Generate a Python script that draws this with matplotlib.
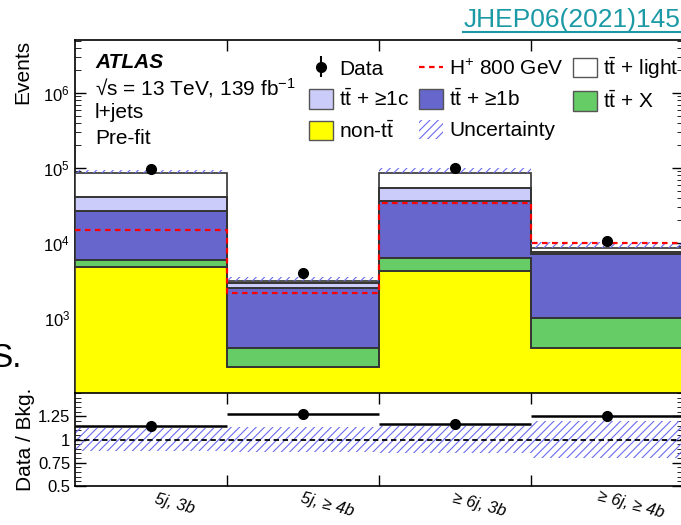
import numpy as np
import matplotlib
matplotlib.use('Agg')
import matplotlib.pyplot as plt
from matplotlib.patches import Patch
from matplotlib.lines import Line2D
from matplotlib.ticker import FixedLocator, LogLocator, MultipleLocator, NullFormatter
import matplotlib.transforms as mtrans

plt.rcParams['font.family'] = ['Liberation Sans', 'DejaVu Sans']
plt.rcParams['mathtext.fontset'] = 'custom'
plt.rcParams['mathtext.rm'] = 'Liberation Sans'
plt.rcParams['mathtext.it'] = 'Liberation Sans:italic'
plt.rcParams['mathtext.bf'] = 'Liberation Sans:bold'
plt.rcParams['hatch.linewidth'] = 0.8

# regions (bins)
regions = ['5j, 3b', '5j, \u2265 4b', '\u2265 6j, 3b', '\u2265 6j, \u2265 4b']

# pre-fit yields per region
non_tt = [4830, 220, 4200, 395]
tt_x = [1050, 180, 2050, 605]
tt_1b = [20600, 2140, 30400, 6130]
tt_1c = [14100, 360, 18000, 530]
tt_light = [44400, 240, 31900, 830]
data = [97000, 4000, 101000, 10600]
hplus = [14800, 2140, 33800, 10100]
rel_unc = [0.125, 0.13, 0.145, 0.2]

TT = r'$\mathrm{t\bar{t}}$'
components = [
    (non_tt, '#ffff00', 'non-' + TT),
    (tt_x, '#66cc66', TT + ' + X'),
    (tt_1b, '#6666cc', TT + ' + \u22651b'),
    (tt_1c, '#ccccfa', TT + ' + \u22651c'),
    (tt_light, '#ffffff', TT + ' + light'),
]
hatch_col = '#6b6bf2'
edge_col = '#333333'

edges = np.arange(len(regions) + 1)
centers = edges[:-1] + 0.5

fig = plt.figure(figsize=(6.81, 5.25), dpi=100)
W, H = 681, 525
ax = fig.add_axes([75 / W, 1 - 393 / H, (683 - 75) / W, (393 - 40) / H])
axr = fig.add_axes([75 / W, 1 - 486 / H, (683 - 75) / W, (486 - 393) / H], sharex=ax)

total = np.zeros(len(regions))
for vals, col, lab in components:
    top = total + np.array(vals)
    base = np.where(total > 0, total, 1.0)
    ax.stairs(top, edges, baseline=base, fill=True, facecolor=col, edgecolor='none', zorder=3)
    ax.stairs(top, edges, baseline=base, fill=False, color=edge_col, lw=1.2, zorder=4)
    total = top

unc = np.array(rel_unc)
ax.stairs(total * (1 + unc), edges, baseline=total, fill=True,
          facecolor='none', edgecolor=hatch_col, hatch='////', lw=0, zorder=5)

ax.stairs(hplus, edges, baseline=None, color='red', ls=(0, (2.5, 2)), lw=1.6, zorder=6)

data = np.array(data, dtype=float)
ax.errorbar(centers, data, yerr=np.sqrt(data), fmt='o', color='black', ms=7, lw=1.5, zorder=7)

ax.set_yscale('log')
ax.set_ylim(100, 5.1e6)
ax.set_xlim(0, 4)
ax.yaxis.set_major_locator(FixedLocator([1e3, 1e4, 1e5, 1e6]))
ax.yaxis.set_minor_locator(LogLocator(base=10, subs=np.arange(2, 10), numticks=20))
ax.yaxis.set_minor_formatter(NullFormatter())
ax.set_xticks([1, 2, 3])
ax.tick_params(axis='both', which='both', direction='in', top=True, right=True, labelsize=12)
ax.tick_params(axis='both', which='major', length=8, width=1)
ax.tick_params(axis='y', which='minor', length=4)
ax.tick_params(axis='x', labelbottom=False)
ax.set_ylabel('Events', fontsize=15, loc='top', labelpad=8)
for sp in ax.spines.values():
    sp.set_linewidth(1.2)

# ATLAS label block
ax.text(95 / W, 1 - 62 / H, 'ATLAS', transform=fig.transFigure, fontsize=15,
        fontweight='bold', style='italic', va='center')
ax.text(95 / W, 1 - 88 / H, '\u221as = 13 TeV, 139 fb$^{-1}$', transform=fig.transFigure,
        fontsize=15, va='center')
ax.text(95 / W, 1 - 113 / H, 'l+jets', transform=fig.transFigure, fontsize=15, va='center')
ax.text(95 / W, 1 - 138 / H, 'Pre-fit', transform=fig.transFigure, fontsize=15, va='center')

# legend
h_data = ax.errorbar([], [], yerr=[], fmt='o', color='black', ms=7, lw=1.5)
h_hp = Line2D([], [], color='red', ls=(0, (2.5, 2)), lw=1.6)
h_unc = Patch(facecolor='none', edgecolor=hatch_col, hatch='////', lw=0)
pt = {lab: Patch(facecolor=col, edgecolor='#555555', lw=1) for _, col, lab in components}
labs = [c[2] for c in components]
handles = [h_data, pt[labs[3]], pt[labs[0]],
           h_hp, pt[labs[2]], h_unc,
           pt[labs[4]], pt[labs[1]]]
labels = ['Data', labs[3], labs[0],
          'H$^{+}$ 800 GeV', labs[2], 'Uncertainty',
          labs[4], labs[1]]
ax.legend(handles, labels, ncol=3, loc='upper left', bbox_to_anchor=(309 / W, 1 - 55 / H),
          bbox_transform=fig.transFigure, frameon=False, fontsize=15,
          handlelength=1.15, handleheight=1.05, handletextpad=0.3,
          labelspacing=0.45, columnspacing=0.45, borderpad=0.0, borderaxespad=0.0)

# ratio panel
ratio = data / total
axr.stairs(1 + unc, edges, baseline=1 - unc, fill=True, facecolor='none',
           edgecolor=hatch_col, hatch='////', lw=0, zorder=2)
axr.axhline(1, color='black', ls=(0, (3, 2)), lw=1.3, zorder=3)
axr.errorbar(centers, ratio, xerr=0.5, yerr=np.sqrt(data) / total, fmt='o',
             color='black', ms=7, lw=1.8, zorder=5)
axr.set_ylim(0.5, 1.5)
axr.set_yticks([0.5, 0.75, 1, 1.25])
axr.set_yticklabels(['0.5', '0.75', '1', '1.25'])
axr.yaxis.set_minor_locator(MultipleLocator(0.05))
axr.set_xticks([1, 2, 3])
axr.tick_params(axis='both', which='both', direction='in', top=True, right=True, labelsize=12)
axr.tick_params(axis='both', which='major', length=8, width=1)
axr.tick_params(axis='y', which='minor', length=4)
axr.tick_params(axis='x', labelbottom=False)
axr.set_ylabel('Data / Bkg.', fontsize=15, labelpad=2)
for sp in axr.spines.values():
    sp.set_linewidth(1.2)

trans = mtrans.blended_transform_factory(axr.transData, axr.transAxes)
for c, lab in zip(centers, regions):
    axr.text(c + 0.17, -0.12, lab, transform=trans, rotation=-15, style='italic',
             fontsize=12, ha='center', va='top', rotation_mode='anchor')

# journal reference
fig.text(680 / W, 1 - 20 / H, 'JHEP06(2021)145', color='#1b9aa6', fontsize=19,
         ha='right', va='center')
fig.add_artist(Line2D([463 / W, 681 / W], [1 - 32 / H, 1 - 32 / H], color='#1b9aa6',
                      lw=1.5, transform=fig.transFigure))

# fragment of slide text at the left edge
fig.text(22 / W, 1 - 367 / H, 'S.', fontsize=24, ha='right', va='baseline')

fig.savefig('out.png', dpi=100)
